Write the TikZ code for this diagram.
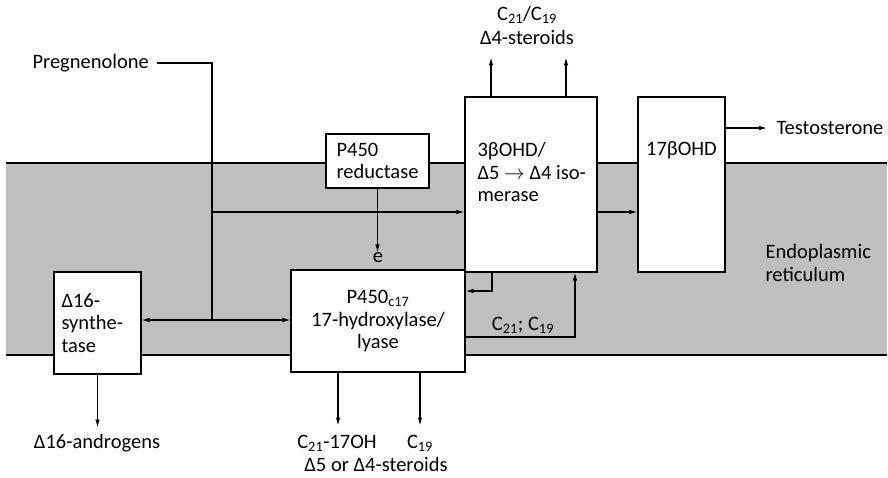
\documentclass[tikz,border=0pt]{standalone}
\usepackage{fontspec}
\setmainfont{Carlito}
\usetikzlibrary{arrows.meta,positioning}

\begin{document}
\begin{tikzpicture}[x=1pt,y=-1pt,line width=1.1pt,
  every node/.style={font=\fontsize{20.5}{22.5}\selectfont,inner sep=0pt},
  enzyme/.style={draw,fill=white},
  flow/.style={-{Latex[length=8pt,width=4.5pt]}}]
\useasboundingbox (0,0) rectangle (888,477);

% membrane band
\fill[black!25] (6,163) rectangle (887,355);
\draw (6,163) -- (887,163);
\draw (6,355) -- (887,355);

% enzymes
\node[enzyme,minimum width=87,minimum height=102,align=left,text width=72] (syn) at (97.5,323) {Δ16-\\synthe-\\tase};
\node[enzyme,minimum width=174,minimum height=102,align=center] (cyp) at (378,321) {P450\textsubscript{c17}\\17-hydroxylase/\\lyase};
\node[enzyme,minimum width=103,minimum height=54,align=left,inner xsep=10] (red) at (377.5,161) {P450\\reductase};
\node[enzyme,minimum width=132,minimum height=175] (hsd) at (531,184.5) {};
\node[enzyme,minimum width=87,minimum height=175] (hsd17) at (681.5,184.5) {};
\node[anchor=north west,align=left] (hsdtxt) at (477,142) {3βOHD/\\Δ5 $\rightarrow$ Δ4 iso-\\merase};
\node (hsd17txt) at (681.5,150) {17βOHD};

% substrates and products
\node[anchor=west] (preg) at (32,63) {Pregnenolone};
\node[anchor=west] (testo) at (776,128) {Testosterone};
\node (c2119) at (527,15) {C\textsubscript{21}/C\textsubscript{19}};
\node (d4) at (527,37) {Δ4-steroids};
\node (andro) at (97,443) {Δ16-androgens};
\node (c21oh) at (337,443) {C\textsubscript{21}-17OH};
\node (c19) at (420,443) {C\textsubscript{19}};
\node (d5d4) at (376,464) {Δ5 or Δ4-steroids};
\node (elec) at (378,258) {e};
\node (cc19) at (523,325) {C\textsubscript{21}; C\textsubscript{19}};
\node[anchor=west,align=left] (er) at (765,263) {Endoplasmic\\reticulum};

% connectors
\coordinate (junc) at (212,320);
\coordinate (branch) at (212,212);
\coordinate (fb) at (492,291);
\coordinate (cc) at (575,337);
\draw ([xshift=8pt]preg.east) -| (junc);
\draw[flow] (junc) -- (junc -| syn.east);
\draw[flow] (junc) -- (junc -| cyp.west);
\draw[flow] (branch) -- (branch -| hsd.west);
\draw[flow] (red.south) -- (red.south |- elec.north);
\draw[flow] (hsd.east |- branch) -- (hsd17.west |- branch);
\draw[flow] (hsd17.east |- testo) -- ([xshift=-9pt]testo.west);
\draw[flow] ([xshift=-40pt]hsd.north) -- ++(0,-39);
\draw[flow] ([xshift=35pt]hsd.north) -- ++(0,-39);
\draw[flow] (hsd.south -| fb) -- (fb) -- (fb -| cyp.east);
\draw[flow] (cyp.east |- cc) -- (cc) -- (cc |- hsd.south);
\draw[flow] (syn.south) -- ++(0,53);
\draw[flow] ([xshift=-40pt]cyp.south) -- ++(0,53);
\draw[flow] ([xshift=42pt]cyp.south) -- ++(0,53);

\end{tikzpicture}
\end{document}
